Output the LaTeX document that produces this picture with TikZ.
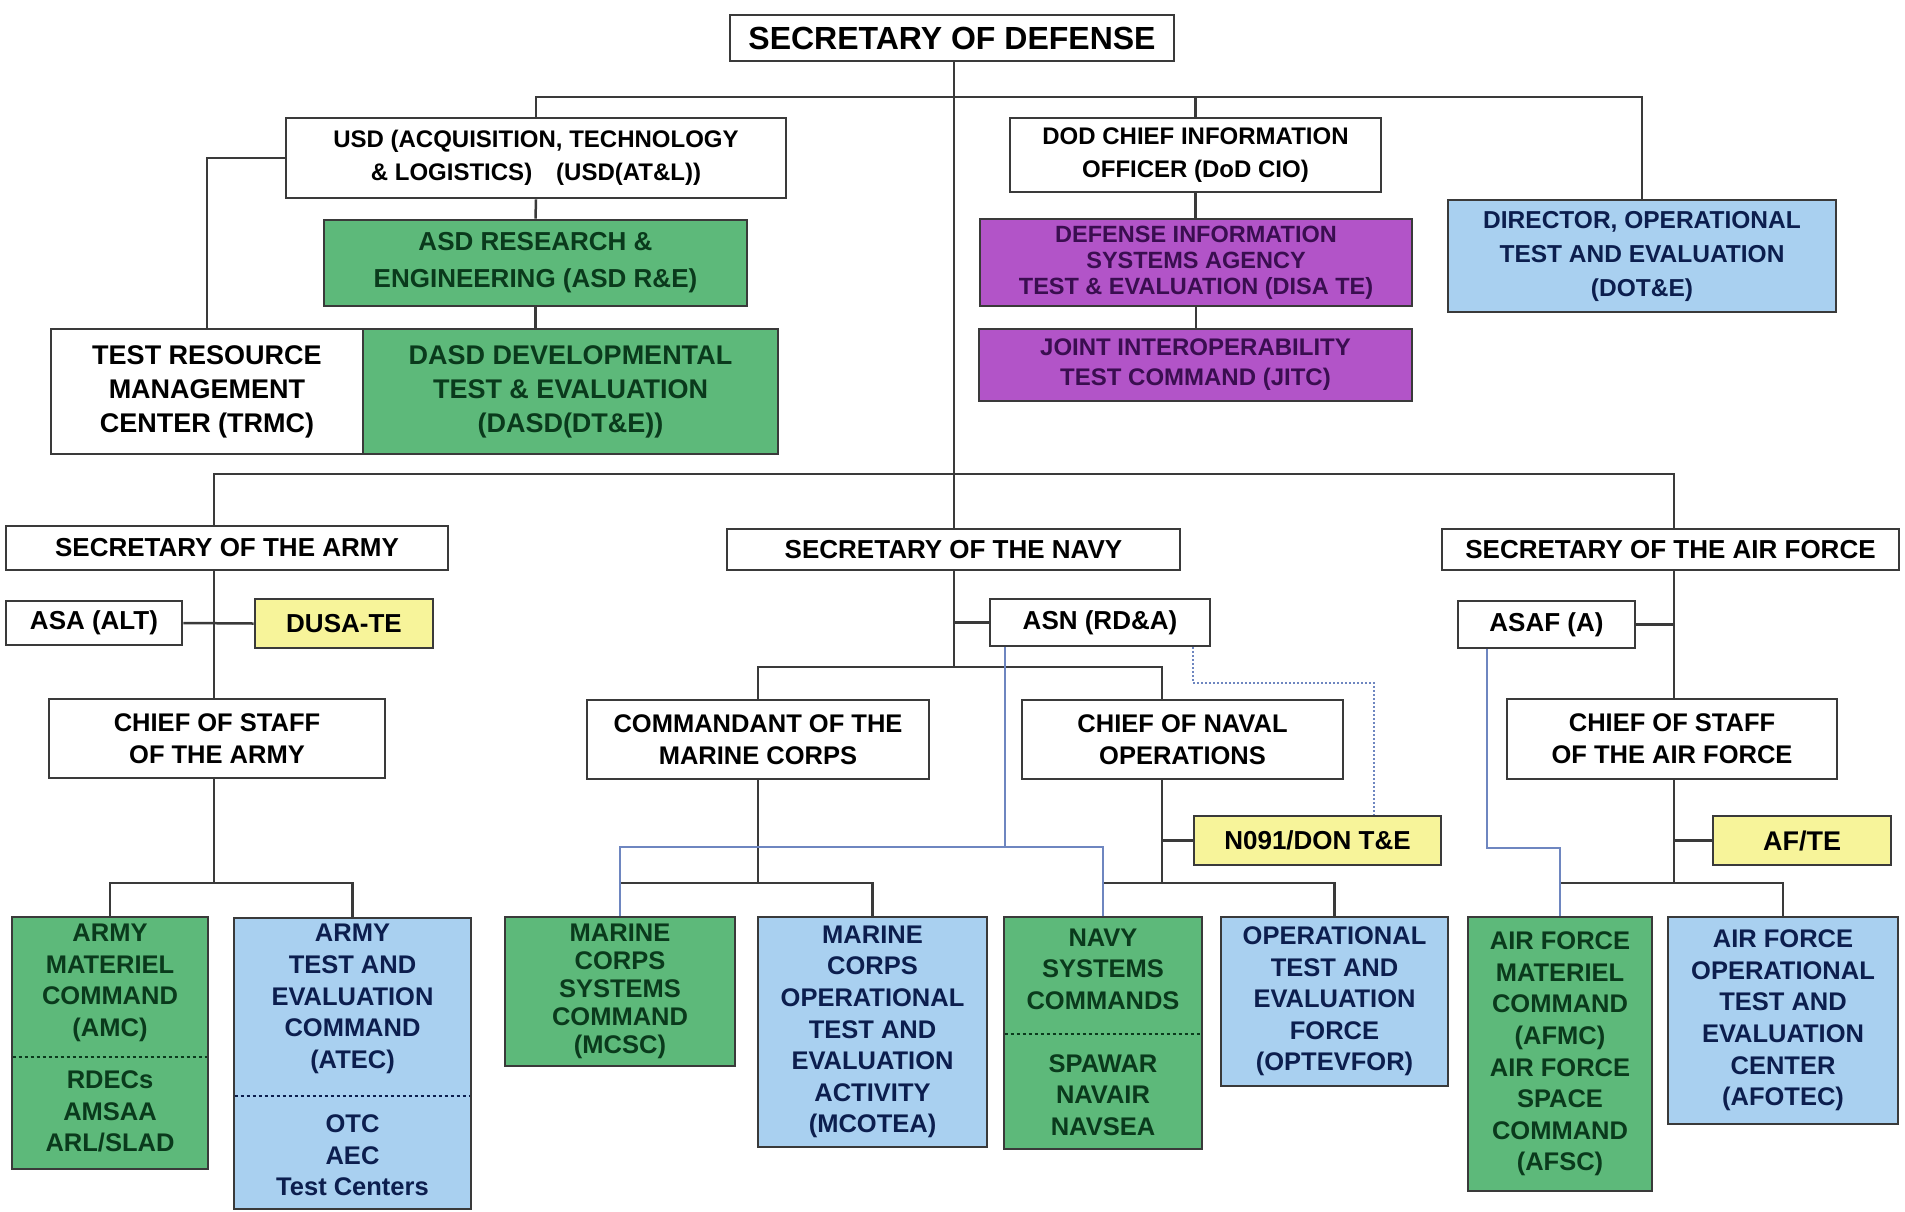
\documentclass[tikz,border=0pt]{standalone}
\usepackage{fontspec}
\setmainfont{Liberation Sans}
\definecolor{bordc}{HTML}{3A3A3A}
\definecolor{linec}{HTML}{3A3A3A}
\definecolor{gfill}{HTML}{5DB97A}
\definecolor{gtext}{HTML}{0A3A1C}
\definecolor{bfill}{HTML}{A9D0F0}
\definecolor{btext}{HTML}{0C1E4E}
\definecolor{pfill}{HTML}{B254C8}
\definecolor{ptext}{HTML}{3A0E50}
\definecolor{yfill}{HTML}{F7F49A}
\definecolor{bline}{HTML}{6E86C0}
\begin{document}
\begin{tikzpicture}[x=1pt,y=-1pt,
  box/.style={draw=bordc, line width=2.8pt, align=center, inner sep=0pt, fill=white, text=black,
     font=\bfseries\fontsize{25.5}{31.6}\selectfont},
  gbox/.style={box, fill=gfill, text=gtext},
  bbox/.style={box, fill=bfill, text=btext},
  pbox/.style={box, fill=pfill, text=ptext},
  ybox/.style={box, fill=yfill},
  txt/.style={align=center, inner sep=0pt, font=\bfseries\fontsize{25.5}{31.6}\selectfont},
  conn/.style={draw=linec, line width=2.5pt},
  bconn/.style={draw=bline, line width=2pt},
  dconn/.style={draw=bline, line width=2pt, dash pattern=on 2pt off 2pt},
  divg/.style={draw=gtext, line width=2pt, dash pattern=on 3pt off 3pt},
  divb/.style={draw=btext, line width=2pt, dash pattern=on 3pt off 3pt},
]
\useasboundingbox[fill=white] (0,0) rectangle (1905,1211);

% ---------- top level ----------
\node[box, minimum width=444pt, minimum height=46pt, font=\bfseries\fontsize{32}{36}\selectfont] (sd) at (952,38) {SECRETARY OF DEFENSE};
\node[box, minimum width=500pt, minimum height=80pt, font=\bfseries\fontsize{24}{33}\selectfont] (usd) at (536,158) {USD (ACQUISITION, TECHNOLOGY\\\& LOGISTICS)\quad(USD(AT\&L))};
\node[gbox, minimum width=423pt, minimum height=86pt, font=\bfseries\fontsize{26}{37}\selectfont] (asd) at (535.5,263) {ASD RESEARCH \&\\ENGINEERING (ASD R\&E)};
\node[gbox, minimum width=415pt, minimum height=125pt, font=\bfseries\fontsize{27}{34}\selectfont] (dasd) at (570.5,391.5) {DASD DEVELOPMENTAL\\TEST \& EVALUATION\\(DASD(DT\&E))};
\node[box, minimum width=312pt, minimum height=125pt, font=\bfseries\fontsize{27}{34}\selectfont] (trmc) at (207,391.5) {TEST RESOURCE\\MANAGEMENT\\CENTER (TRMC)};
\node[box, minimum width=371pt, minimum height=74pt, font=\bfseries\fontsize{24}{33}\selectfont] (cio) at (1195.5,155) {DOD CHIEF INFORMATION\\OFFICER (DoD CIO)};
\node[pbox, minimum width=432pt, minimum height=87pt, font=\bfseries\fontsize{23.5}{26}\selectfont] (disa) at (1196,262.5) {DEFENSE INFORMATION\\SYSTEMS AGENCY\\TEST \& EVALUATION (DISA TE)};
\node[pbox, minimum width=433pt, minimum height=72pt, font=\bfseries\fontsize{24}{30}\selectfont] (jitc) at (1195.5,365) {JOINT INTEROPERABILITY\\TEST COMMAND (JITC)};
\node[bbox, minimum width=388pt, minimum height=112pt, font=\bfseries\fontsize{24.5}{34}\selectfont] (dote) at (1642,256) {DIRECTOR, OPERATIONAL\\TEST AND EVALUATION\\(DOT\&E)};

% ---------- army ----------
\node[box, minimum width=442pt, minimum height=44pt, font=\bfseries\fontsize{26}{30}\selectfont] (secarmy) at (227,548) {SECRETARY OF THE ARMY};
\node[box, minimum width=176pt, minimum height=44pt, font=\bfseries\fontsize{26}{30}\selectfont] (asa) at (94,623) {ASA (ALT)};
\node[ybox, minimum width=178pt, minimum height=49pt, font=\bfseries\fontsize{26}{30}\selectfont] (dusa) at (344,623.5) {DUSA-TE};
\node[box, minimum width=336pt, minimum height=79pt] (cosarmy) at (217,738.5) {CHIEF OF STAFF\\OF THE ARMY};
\node[gbox, minimum width=196pt, minimum height=252pt] (amc) at (110,1043) {};
\node[txt, text=gtext] (amct) at (110,983) {ARMY\\MATERIEL\\COMMAND\\(AMC)};
\node[txt, text=gtext] (amcb) at (110,1111.5) {RDECs\\AMSAA\\ARL/SLAD};
\node[bbox, minimum width=237pt, minimum height=291pt] (atec) at (352.5,1063.5) {};
\node[txt, text=btext] (atect) at (352.5,999) {ARMY\\TEST AND\\EVALUATION\\COMMAND\\(ATEC)};
\node[txt, text=btext] (atecb) at (352.5,1155.5) {OTC\\AEC\\Test Centers};

% ---------- navy ----------
\node[box, minimum width=453pt, minimum height=41pt, font=\bfseries\fontsize{26}{30}\selectfont] (secnavy) at (953.5,549.5) {SECRETARY OF THE NAVY};
\node[box, minimum width=220pt, minimum height=47pt, font=\bfseries\fontsize{26}{30}\selectfont] (asn) at (1100,622.5) {ASN (RD\&A)};
\node[box, minimum width=342pt, minimum height=79pt] (cmc) at (758,739.5) {COMMANDANT OF THE\\MARINE CORPS};
\node[box, minimum width=321pt, minimum height=79pt] (cno) at (1182.5,739.5) {CHIEF OF NAVAL\\OPERATIONS};
\node[ybox, minimum width=247pt, minimum height=49pt, font=\bfseries\fontsize{26}{30}\selectfont] (n091) at (1317.5,840.5) {N091/DON T\&E};
\node[gbox, minimum width=230pt, minimum height=149pt, font=\bfseries\fontsize{25.5}{28}\selectfont] (mcsc) at (620,991.5) {MARINE\\CORPS\\SYSTEMS\\COMMAND\\(MCSC)};
\node[bbox, minimum width=229pt, minimum height=230pt] (mcotea) at (872.5,1032) {MARINE\\CORPS\\OPERATIONAL\\TEST AND\\EVALUATION\\ACTIVITY\\(MCOTEA)};
\node[gbox, minimum width=198pt, minimum height=232pt] (nsc) at (1103,1033) {};
\node[txt, text=gtext] (nsct) at (1103,969) {NAVY\\SYSTEMS\\COMMANDS};
\node[txt, text=gtext] (nscb) at (1103,1095) {SPAWAR\\NAVAIR\\NAVSEA};
\node[bbox, minimum width=227pt, minimum height=169pt] (optev) at (1334.5,1001.5) {OPERATIONAL\\TEST AND\\EVALUATION\\FORCE\\(OPTEVFOR)};

% ---------- air force ----------
\node[box, minimum width=457pt, minimum height=41pt, font=\bfseries\fontsize{26}{30}\selectfont] (secaf) at (1670.5,549.5) {SECRETARY OF THE AIR FORCE};
\node[box, minimum width=177pt, minimum height=47pt, font=\bfseries\fontsize{26}{30}\selectfont] (asaf) at (1546.5,624.5) {ASAF (A)};
\node[box, minimum width=330pt, minimum height=80pt] (cosaf) at (1672,739) {CHIEF OF STAFF\\OF THE AIR FORCE};
\node[ybox, minimum width=178pt, minimum height=49pt, font=\bfseries\fontsize{27}{30}\selectfont] (afte) at (1802,840.5) {AF/TE};
\node[gbox, minimum width=184pt, minimum height=274pt] (afmc) at (1560,1054) {AIR FORCE\\MATERIEL\\COMMAND\\(AFMC)\\AIR FORCE\\SPACE\\COMMAND\\(AFSC)};
\node[bbox, minimum width=230pt, minimum height=207pt] (afotec) at (1783,1020.5) {AIR FORCE\\OPERATIONAL\\TEST AND\\EVALUATION\\CENTER\\(AFOTEC)};

% ---------- helper coordinates ----------
\coordinate (h1) at (954,97);
\coordinate (av) at (214,474);
\coordinate (afv) at (1674,474);
\coordinate (ab) at (214,883);
\coordinate (nv) at (954,667);
\coordinate (cnx) at (1162,0);
\coordinate (mb) at (758,883);
\coordinate (nb) at (1162,883);
\coordinate (fb) at (1674,883);
\coordinate (bj) at (1005,847);
\coordinate (dx) at (1193,0);
\coordinate (dj) at (1374,683);
\coordinate (fj) at (1487,848);

% ---------- connectors (top) ----------
\draw[conn] (sd.south -| h1) -- (secnavy.north -| h1);
\draw[conn] (usd.north) |- (dote.north |- h1) -- (dote.north);
\draw[conn] (cio.north) -- (cio.north |- h1);
\draw[conn] (usd.south) -- (asd.north);
\draw[conn] (asd.south) -- (asd.south |- dasd.north);
\draw[conn] (usd.west) -| (trmc.north);
\draw[conn] (cio.south) -- (cio.south |- disa.north);
\draw[conn] (disa.south) -- (disa.south |- jitc.north);

% ---------- services bar ----------
\draw[conn] (secarmy.north -| av) -- (av) -- (afv) -- (secaf.north -| afv);

% ---------- army ----------
\draw[conn] (secarmy.south -| av) -- (cosarmy.north -| av);
\draw[conn] (asa.east) -- (dusa.west);
\draw[conn] (cosarmy.south -| ab) -- (ab);
\draw[conn] (amc.north) |- (ab) -| (atec.north);

% ---------- navy ----------
\draw[conn] (secnavy.south -| nv) -- (nv);
\draw[conn] (asn.west) -- (asn.west -| nv);
\draw[conn] (cmc.north) |- (nv) -| (cno.north -| cnx);
\draw[conn] (cmc.south -| mb) -- (mb);
\draw[conn] (mcsc.north) |- (mb) -| (mcotea.north);
\draw[conn] (cno.south -| nb) -- (nb);
\draw[conn] (nsc.north) |- (nb) -| (optev.north);
\draw[conn] (n091.west) -- (n091.west -| nb);
\draw[bconn] (asn.south -| bj) -- (bj);
\draw[bconn] (mcsc.north) |- (bj) -| (nsc.north);
\draw[dconn] (asn.south -| dx) |- (dj) -- (n091.north -| dj);

% ---------- air force ----------
\draw[conn] (secaf.south -| fb) -- (cosaf.north -| fb);
\draw[conn] (asaf.east) -- (asaf.east -| fb);
\draw[conn] (cosaf.south -| fb) -- (fb);
\draw[conn] (afmc.north) |- (fb) -| (afotec.north);
\draw[conn] (afte.west) -- (afte.west -| fb);
\draw[bconn] (asaf.south -| fj) -- (fj) -| (afmc.north);

% ---------- dividers ----------
\draw[divg] ([xshift=2pt]amc.west |- 0,1057) -- ([xshift=-2pt]amc.east |- 0,1057);
\draw[divb] ([xshift=2pt]atec.west |- 0,1096) -- ([xshift=-2pt]atec.east |- 0,1096);
\draw[divg] ([xshift=2pt]nsc.west |- 0,1034) -- ([xshift=-2pt]nsc.east |- 0,1034);
\end{tikzpicture}
\end{document}
